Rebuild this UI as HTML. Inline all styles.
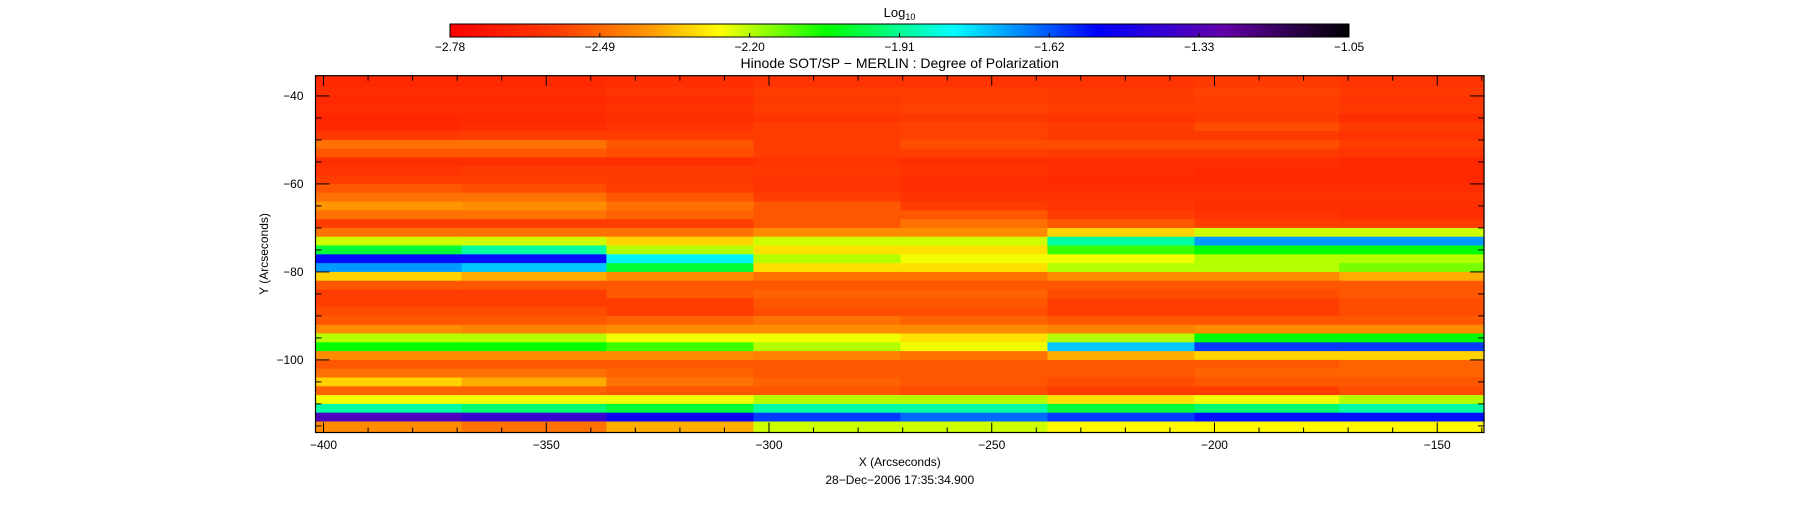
<!DOCTYPE html>
<html><head><meta charset="utf-8"><style>
body{margin:0;background:#fff;width:1799px;height:512px;overflow:hidden;font-family:"Liberation Sans",sans-serif}
svg{position:absolute;left:0;top:0}
</style></head><body>
<svg id="s" width="1799" height="512"></svg>
<script>
const cbTicks=["-2.78","-2.49","-2.20","-1.91","-1.62","-1.33","-1.05"];
const xTicks=[-400,-350,-300,-250,-200,-150];
const yTicks=[-40,-60,-80,-100];
const yRows=[-37,-39,-41,-43,-45,-47,-49,-51,-53,-55,-57,-59,-61,-63,-65,-67,-69,-71,-73,-75,-77,-79,-81,-83,-85,-87,-89,-91,-93,-95,-97,-99,-101,-103,-105,-107,-109,-111,-113,-115];
const xCols=[-385,-353,-320,-287,-254,-221,-188,-156];
const grid=[
[-2.64,-2.64,-2.62,-2.6,-2.6,-2.6,-2.58,-2.6],
[-2.62,-2.62,-2.6,-2.57,-2.57,-2.58,-2.56,-2.58],
[-2.64,-2.64,-2.62,-2.58,-2.57,-2.58,-2.57,-2.6],
[-2.62,-2.62,-2.6,-2.57,-2.56,-2.57,-2.57,-2.58],
[-2.65,-2.64,-2.62,-2.6,-2.58,-2.6,-2.58,-2.62],
[-2.64,-2.62,-2.6,-2.57,-2.56,-2.57,-2.54,-2.58],
[-2.58,-2.57,-2.57,-2.57,-2.56,-2.58,-2.58,-2.6],
[-2.47,-2.47,-2.52,-2.57,-2.54,-2.54,-2.54,-2.57],
[-2.52,-2.52,-2.54,-2.57,-2.57,-2.58,-2.58,-2.6],
[-2.62,-2.62,-2.62,-2.6,-2.62,-2.62,-2.62,-2.64],
[-2.6,-2.58,-2.58,-2.58,-2.6,-2.62,-2.64,-2.64],
[-2.57,-2.57,-2.58,-2.6,-2.62,-2.64,-2.64,-2.64],
[-2.52,-2.54,-2.57,-2.6,-2.62,-2.62,-2.62,-2.62],
[-2.47,-2.47,-2.52,-2.57,-2.6,-2.6,-2.6,-2.6],
[-2.4,-2.42,-2.47,-2.52,-2.57,-2.6,-2.62,-2.62],
[-2.47,-2.47,-2.5,-2.52,-2.52,-2.57,-2.6,-2.62],
[-2.57,-2.57,-2.57,-2.52,-2.47,-2.52,-2.57,-2.58],
[-2.47,-2.47,-2.47,-2.42,-2.42,-2.32,-2.22,-2.22],
[-2.22,-2.22,-2.32,-2.22,-2.22,-1.9,-1.7,-1.7],
[-2.0,-1.9,-2.2,-2.3,-2.3,-2.1,-2.05,-2.05],
[-1.55,-1.55,-1.8,-2.2,-2.25,-2.25,-2.2,-2.2],
[-1.7,-1.75,-2.0,-2.3,-2.3,-2.2,-2.2,-2.15],
[-2.32,-2.37,-2.42,-2.47,-2.47,-2.42,-2.42,-2.37],
[-2.52,-2.52,-2.52,-2.52,-2.52,-2.52,-2.52,-2.52],
[-2.57,-2.57,-2.52,-2.5,-2.5,-2.54,-2.54,-2.52],
[-2.57,-2.57,-2.57,-2.52,-2.52,-2.57,-2.57,-2.54],
[-2.54,-2.54,-2.57,-2.54,-2.54,-2.57,-2.57,-2.54],
[-2.52,-2.52,-2.5,-2.47,-2.5,-2.52,-2.52,-2.52],
[-2.42,-2.44,-2.42,-2.42,-2.42,-2.44,-2.42,-2.42],
[-2.2,-2.2,-2.25,-2.25,-2.3,-2.2,-2.05,-2.05],
[-2.05,-2.05,-2.1,-2.2,-2.25,-1.75,-1.6,-1.6],
[-2.42,-2.42,-2.42,-2.44,-2.47,-2.37,-2.32,-2.32],
[-2.52,-2.52,-2.52,-2.52,-2.52,-2.52,-2.52,-2.5],
[-2.47,-2.47,-2.5,-2.52,-2.52,-2.52,-2.5,-2.5],
[-2.32,-2.37,-2.47,-2.5,-2.52,-2.54,-2.52,-2.52],
[-2.5,-2.5,-2.52,-2.52,-2.54,-2.57,-2.57,-2.54],
[-2.25,-2.25,-2.25,-2.2,-2.2,-2.3,-2.25,-2.2],
[-1.9,-1.95,-2.0,-1.9,-1.9,-2.0,-1.95,-1.9],
[-1.35,-1.4,-1.5,-1.6,-1.65,-1.6,-1.55,-1.55],
[-2.42,-2.47,-2.37,-2.22,-2.22,-2.27,-2.27,-2.27]
];
const NS="http://www.w3.org/2000/svg",s=document.getElementById('s');
function el(t,a,txt){const e=document.createElementNS(NS,t);for(const k in a)e.setAttribute(k,a[k]);if(txt!=null)e.textContent=txt;s.appendChild(e);return e;}
const L=315.5,R=1484,T=75.7,B=432.5,X0=-401.8,X1=-139.5,Y0=-35.4,Y1=-116.5;
const xs=v=>L+(v-X0)/(X1-X0)*(R-L), ys=v=>T+(v-Y0)/(Y1-Y0)*(B-T);
const vmin=-2.78,vmax=-1.05;
const stops=[[0,255,0,0],[0.12,255,60,0],[0.22,255,150,0],[0.3,255,255,0],[0.42,0,255,0],[0.56,0,255,255],[0.72,0,0,255],[0.86,100,0,170],[1,0,0,0]];
function cmap(v){let t=Math.max(0,Math.min(1,(v-vmin)/(vmax-vmin)));for(let i=1;i<stops.length;i++){if(t<=stops[i][0]){const a=stops[i-1],b=stops[i],f=(t-a[0])/(b[0]-a[0]);return `rgb(${Math.round(a[1]+f*(b[1]-a[1]))},${Math.round(a[2]+f*(b[2]-a[2]))},${Math.round(a[3]+f*(b[3]-a[3]))})`;}}return '#000';}
// heatmap cell edges from neighbouring centres
const xEdge=j=>j===0?X0:j===xCols.length?X1:(xCols[j-1]+xCols[j])/2;
const yEdge=i=>i===0?Y0:i===yRows.length?Y1:(yRows[i-1]+yRows[i])/2;
yRows.forEach((y,i)=>{xCols.forEach((x,j)=>{
 const x0=xs(xEdge(j)),x1=xs(xEdge(j+1)),y0=ys(yEdge(i)),y1=ys(yEdge(i+1));
 const r=el('rect',{x:x0,y:y0,width:x1-x0+0.6,height:y1-y0+0.6,fill:cmap(grid[i][j])});
 
 
});});
el('rect',{x:L,y:T,width:R-L,height:B-T,fill:'none',stroke:'#000','stroke-width':1.2,});
for(let v=-400;v<=-140;v+=10){const x=xs(v),len=v%50===0?10:5;el('line',{x1:x,x2:x,y1:B,y2:B-len,stroke:'#000'});el('line',{x1:x,x2:x,y1:T,y2:T+len,stroke:'#000'});}
for(let v=-40;v>=-115;v-=5){const y=ys(v),len=v%20===0?14:6;el('line',{x1:L,x2:L+len,y1:y,y2:y,stroke:'#000'});el('line',{x1:R,x2:R-len,y1:y,y2:y,stroke:'#000'});}
xTicks.forEach(v=>{const t=el('text',{x:xs(v),y:449,'font-size':12,'text-anchor':'middle'},'\u2212'+(-v));});
yTicks.forEach(v=>{const t=el('text',{x:L-12,y:ys(v)+4,'font-size':12,'text-anchor':'end'},'\u2212'+(-v));});
el('text',{x:(L+R)/2,y:466,'font-size':12,'text-anchor':'middle',},'X (Arcseconds)');
el('text',{x:(L+R)/2,y:484,'font-size':12,'text-anchor':'middle',},'28\u2212Dec\u22122006 17:35:34.900');
el('text',{x:268,y:254,'font-size':12,'text-anchor':'middle',transform:'rotate(-90 268 254)',},'Y (Arcseconds)');
el('text',{x:(L+R)/2,y:68,'font-size':14,'text-anchor':'middle',},'Hinode SOT/SP \u2212 MERLIN : Degree of Polarization');
const CL=450,CR=1349,CT=24,CB=37;
const defs=el('defs',{});const g=document.createElementNS(NS,'linearGradient');g.setAttribute('id','cg');defs.appendChild(g);
stops.forEach(st=>{const o=document.createElementNS(NS,'stop');o.setAttribute('offset',st[0]);o.setAttribute('stop-color',`rgb(${st[1]},${st[2]},${st[3]})`);g.appendChild(o);});
el('rect',{x:CL,y:CT,width:CR-CL,height:CB-CT,fill:'url(#cg)',stroke:'#000',});
cbTicks.forEach((t,i)=>{const x=CL+i*(CR-CL)/(cbTicks.length-1);el('line',{x1:x,x2:x,y1:CB,y2:CB-4,stroke:'#000'});const e=el('text',{x:x,y:51,'font-size':12,'text-anchor':'middle'},t.replace('-','\u2212'));});
const lg=el('text',{x:(CL+CR)/2,y:17,'font-size':13,'text-anchor':'middle',},'Log');
const sub=document.createElementNS(NS,'tspan');sub.setAttribute('font-size',9);sub.setAttribute('dy',3);sub.textContent='10';lg.appendChild(sub);
</script>
</body></html>
